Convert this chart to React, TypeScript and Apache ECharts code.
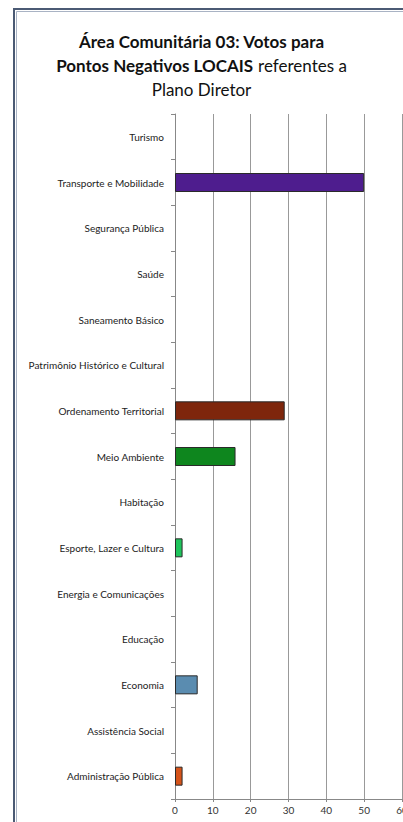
import React, { useEffect, useRef } from "react";
import * as echarts from "echarts";

const categories = [
  "Turismo",
  "Transporte e Mobilidade",
  "Segurança Pública",
  "Saúde",
  "Saneamento Básico",
  "Patrimônio Histórico e Cultural",
  "Ordenamento Territorial",
  "Meio Ambiente",
  "Habitação",
  "Esporte, Lazer e Cultura",
  "Energia e Comunicações",
  "Educação",
  "Economia",
  "Assistência Social",
  "Administração Pública",
];

const votes = [0, 50, 0, 0, 0, 0, 29, 16, 0, 2, 0, 0, 6, 0, 2];

const barColors = [
  "#7f7f7f",
  "#4e1d8e",
  "#7f7f7f",
  "#7f7f7f",
  "#7f7f7f",
  "#7f7f7f",
  "#7e260c",
  "#0e861e",
  "#7f7f7f",
  "#1fc45c",
  "#7f7f7f",
  "#7f7f7f",
  "#5a8cb0",
  "#7f7f7f",
  "#d5531a",
];

const xTicks = [0, 10, 20, 30, 40, 50, 60];

export default function App() {
  const ref = useRef<HTMLDivElement>(null);
  useEffect(() => {
    if (!ref.current) return;
    const chart = echarts.init(ref.current, undefined, { renderer: "svg" });
    chart.setOption({
      animation: false,
      backgroundColor: "#ffffff",
      title: {
        left: "center",
        top: 24,
        text:
          "{b|Área Comunitária 03: Votos para}\n{b|Pontos Negativos LOCAIS} {n|referentes a}\n{n|Plano Diretor}",
        textStyle: {
          rich: {
            b: { fontFamily: "Lato", fontWeight: "bold", fontSize: 17, color: "#111", lineHeight: 24 },
            n: { fontFamily: "Lato", fontWeight: "normal", fontSize: 17, color: "#111", lineHeight: 24 },
          },
        },
      },
      graphic: [
        {
          type: "rect",
          shape: { x: 14, y: 9, width: 500, height: 900 },
          style: { fill: "none", stroke: "#4b5a74", lineWidth: 2 },
          silent: true,
        },
        {
          type: "rect",
          shape: { x: 16.5, y: 11.5, width: 500, height: 900 },
          style: { fill: "none", stroke: "#a9b3c4", lineWidth: 1 },
          silent: true,
        },
      ],
      grid: {
        left: 175,
        right: 1,
        top: 114,
        bottom: 23,
        containLabel: false,
        outerBoundsMode: "none",
      },
      xAxis: {
        type: "value",
        min: 0,
        max: 60,
        interval: 10,
        axisLine: { show: true, lineStyle: { color: "#888" } },
        axisTick: { show: true, length: 3, lineStyle: { color: "#888" } },
        splitLine: { show: true, lineStyle: { color: "#999", width: 1 } },
        axisLabel: {
          fontFamily: "Lato",
          fontSize: 10,
          color: "#333",
          margin: 6,
          formatter: (v: number) => (xTicks.includes(v) ? String(v) : ""),
        },
      },
      yAxis: {
        type: "category",
        data: categories,
        inverse: true,
        axisLine: { show: true, lineStyle: { color: "#888" } },
        axisTick: { show: true, length: 4, lineStyle: { color: "#888" } },
        axisLabel: { fontFamily: "Lato", fontSize: 10, color: "#222", margin: 11 },
      },
      series: [
        {
          type: "bar",
          barWidth: 19,
          data: votes.map((v, i) => ({
            value: v,
            itemStyle: { color: barColors[i], borderColor: "#2a2a2a", borderWidth: v > 0 ? 1 : 0 },
          })),
        },
      ],
    });
    return () => chart.dispose();
  }, []);
  return (
    <div ref={ref} style={{ position: "absolute", left: 0, top: 0, width: 403, height: 822 }} />
  );
}
